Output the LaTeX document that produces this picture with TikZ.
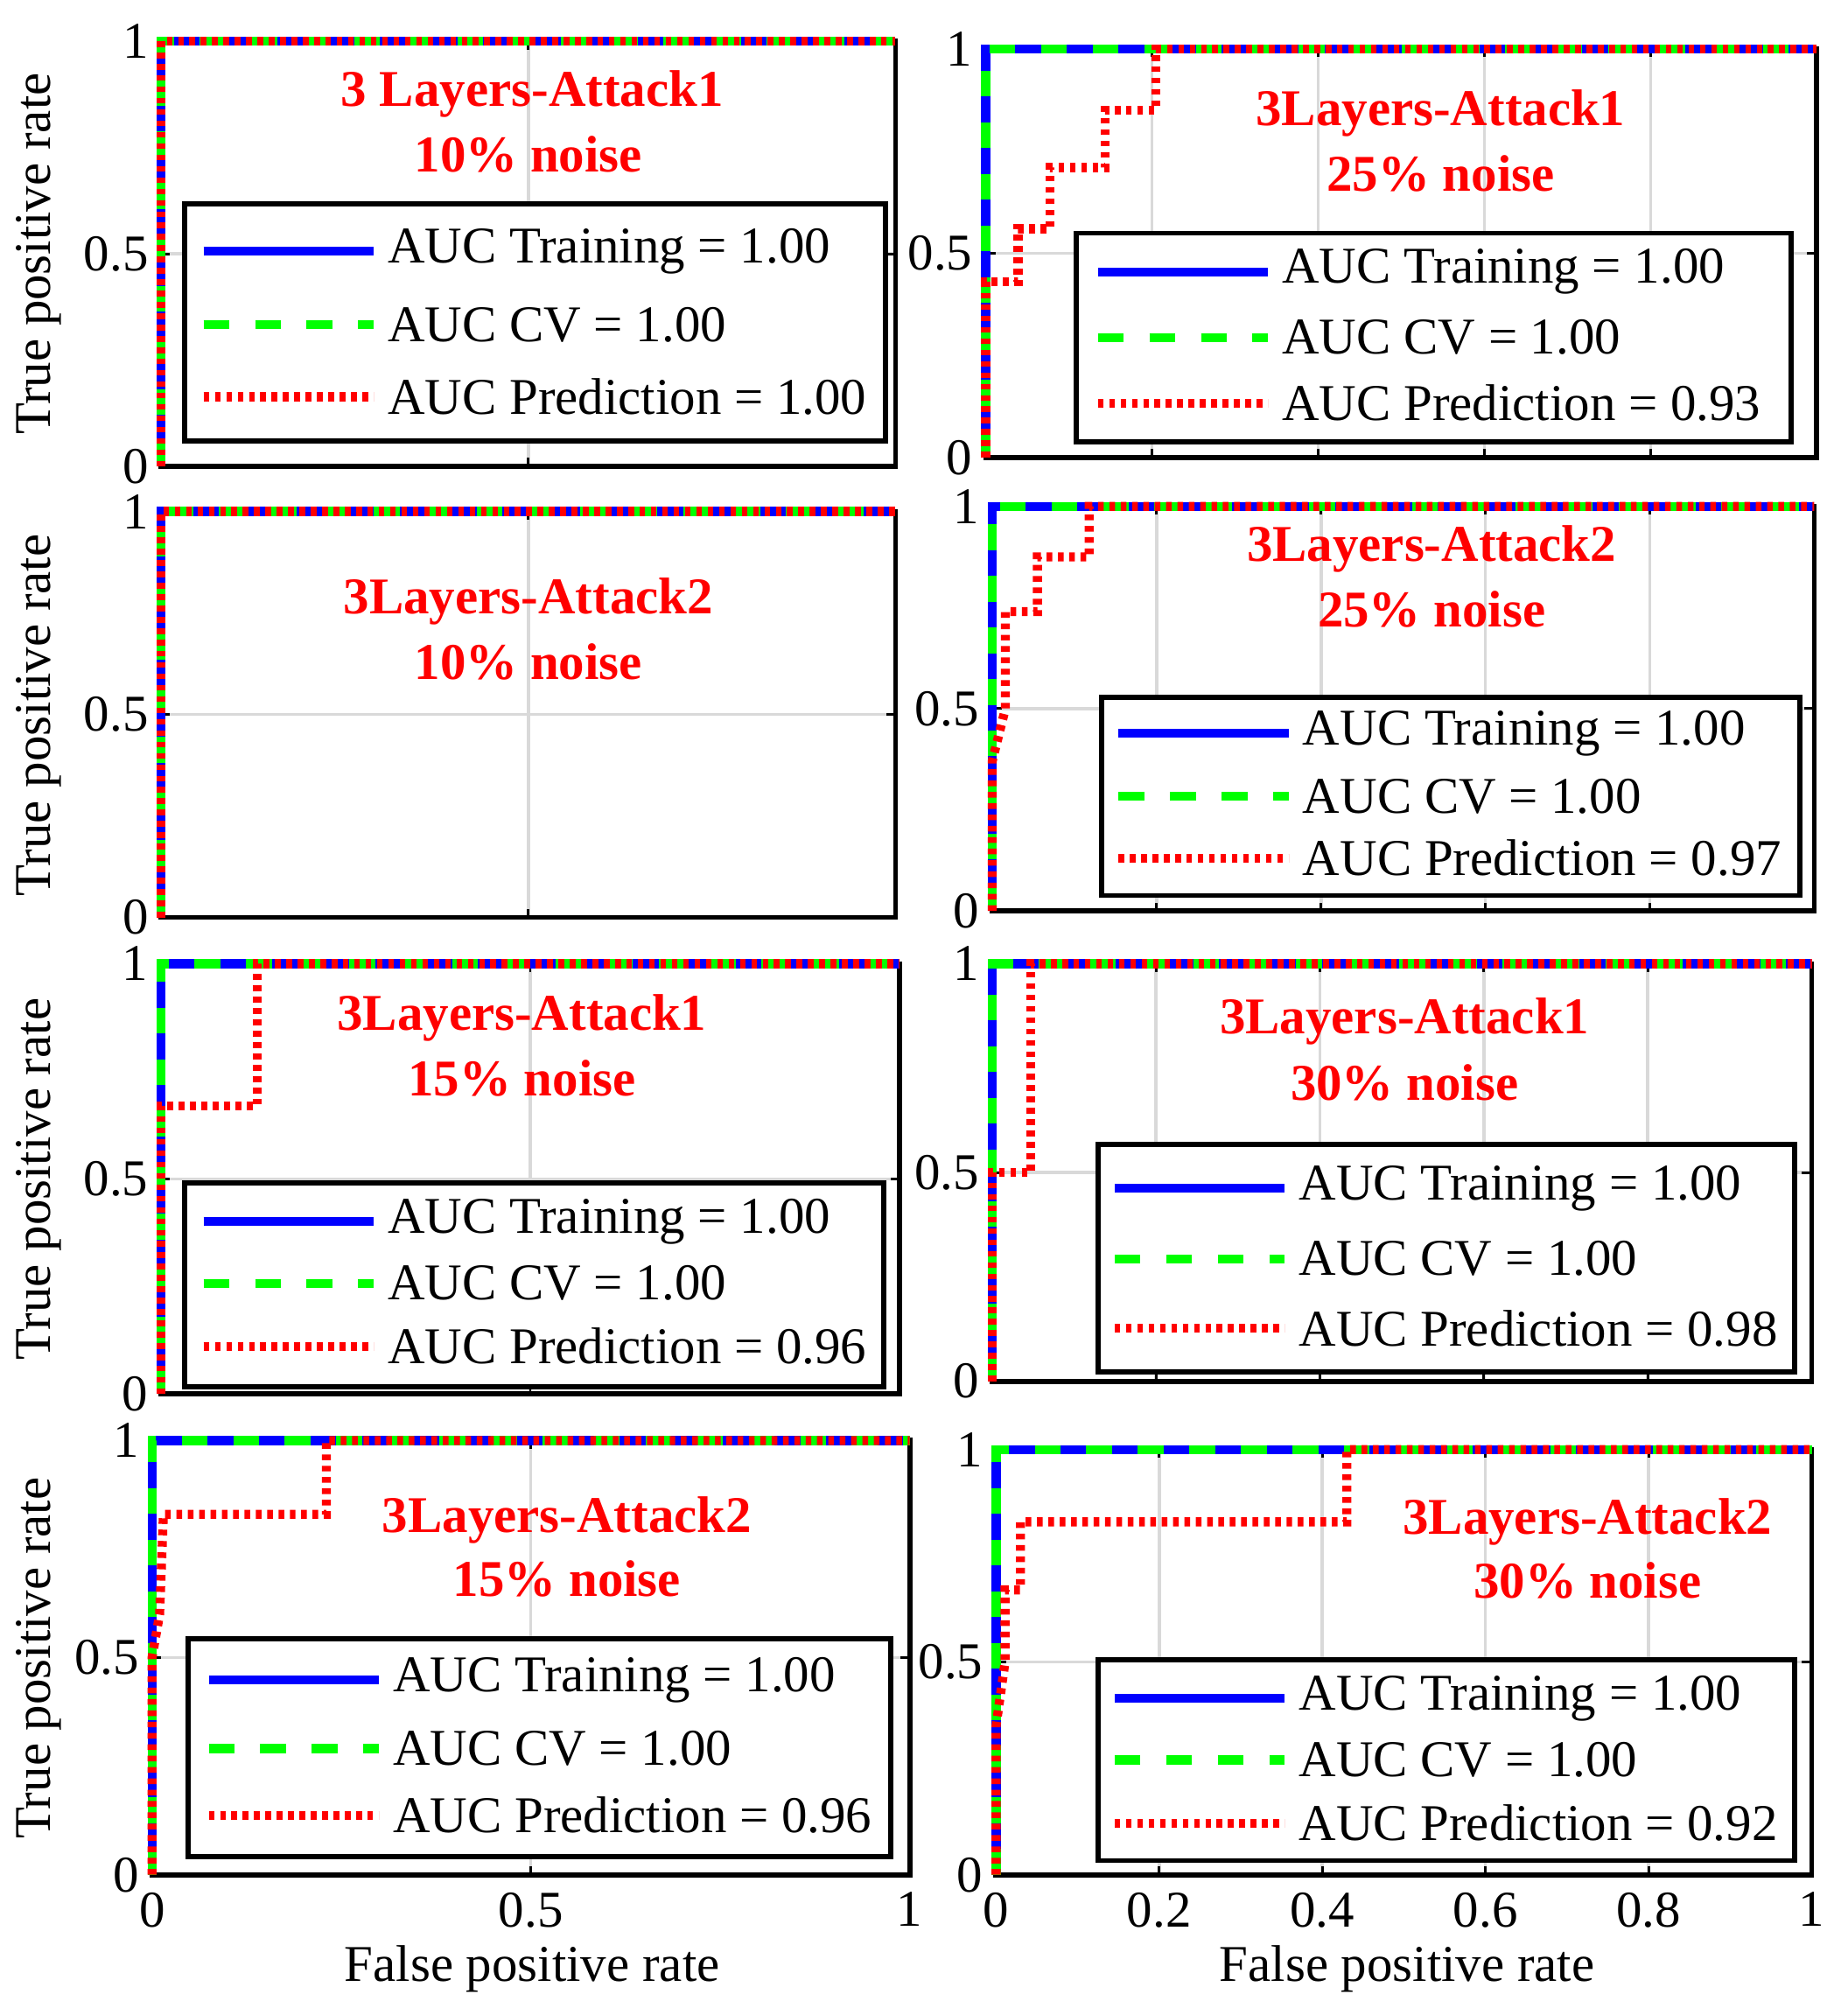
\documentclass[tikz,border=0pt]{standalone}
\usepackage{fontspec}
\setmainfont{Liberation Serif}
\begin{document}
\begin{tikzpicture}[x=0.5pt,y=-0.5pt,
  every node/.style={font=\fontsize{20}{23}\selectfont},
  tr/.style={blue,line width=3.5pt},
  cv/.style={green,line width=3.5pt,dash pattern=on 10pt off 10pt},
  pr/.style={red,line width=3.5pt,dash pattern=on 2.2pt off 2.2pt},
  grd/.style={gray!30,line width=1.2pt},
  frm/.style={black,line width=2pt},
  ttl/.style={red,font=\fontsize{20}{23}\selectfont\bfseries},
  lg/.style={draw=black,line width=2pt,fill=white}]
\useasboundingbox (0,0) rectangle (1434,1553);
\newcommand\rocpanel[7]{% x0 y0 x1 y1 gridtype red bottomlabels
\begin{scope}[shift={(#1,#4)},xscale=#3-#1,yscale=-(#4-#2)]
  \ifnum#5=0
    \draw[grd] (0.5,0)--(0.5,1);
    \foreach \t in {0,0.5,1}{\draw[frm,line width=1pt] (\t,0)--(\t,0.02) (\t,1)--(\t,0.98);}
  \else
    \foreach \t in {0.2,0.4,0.6,0.8}{\draw[grd] (\t,0)--(\t,1);}
    \foreach \t in {0,0.2,...,1}{\draw[frm,line width=1pt] (\t,0)--(\t,0.02) (\t,1)--(\t,0.98);}
  \fi
  \draw[grd] (0,0.5)--(1,0.5);
  \draw[frm,line width=1pt] (0,0.5)--(0.012,0.5) (1,0.5)--(0.988,0.5);
  \draw[frm] (0,0) rectangle (1,1);
  \draw[tr] (0,0)--(0,1)--(1,1);
  \draw[cv] (0,0)--(0,1)--(1,1);
  \draw[pr] #6;
  \node[anchor=east] at (-0.005,0) {0};
  \node[anchor=east] at (-0.005,0.5) {0.5};
  \node[anchor=east] at (-0.005,1) {1};
  \ifnum#7=1
    \ifnum#5=0
      \foreach \t/\l in {0/0,0.5/0.5,1/1}{\node[anchor=north] at (\t,-0.02) {\l};}
    \else
      \foreach \t/\l in {0/0,0.2/0.2,0.4/0.4,0.6/0.6,0.8/0.8,1/1}{\node[anchor=north] at (\t,-0.02) {\l};}
    \fi
  \fi
\end{scope}}
\newcommand\leg[9]{%
  \draw[lg] (#1,#2) rectangle (#3,#4);
  \draw[tr] (#8,#5)--++(132,0);
  \draw[cv] (#8,#6)--++(132,0);
  \draw[pr] (#8,#7)--++(132,0);
  \node[anchor=west] at (#8+136,#5) {AUC Training = 1.00};
  \node[anchor=west] at (#8+136,#6) {AUC CV = 1.00};
  \node[anchor=west] at (#8+136,#7) {AUC Prediction = #9};}
% row 1
\rocpanel{125}{32}{695}{362}{0}{(0,0)--(0,1)--(1,1)}{0}
\leg{143}{158}{687}{342}{195}{252}{308}{158}{1.00}
\node[ttl] at (413,73) {3 Layers-Attack1}; \node[ttl] at (410,120) {10\% noise};
\rocpanel{765}{38}{1410}{355}{1}{(0,0)--(0,0.43)--(0.039,0.43)--(0.039,0.56)--(0.077,0.56)--(0.077,0.71)--(0.144,0.71)--(0.144,0.85)--(0.205,0.85)--(0.205,1)--(1,1)}{0}
\leg{835}{181}{1390}{343}{211}{262}{313}{852}{0.93}
\node[ttl] at (1118,88) {3Layers-Attack1}; \node[ttl] at (1118,135) {25\% noise};
% row 2
\rocpanel{125}{397}{695}{712}{0}{(0,0)--(0,1)--(1,1)}{0}
\node[ttl] at (410,467) {3Layers-Attack2}; \node[ttl] at (410,514) {10\% noise};
\rocpanel{770}{393}{1408}{707}{1}{(0,0)--(0,0.37)--(0.016,0.5)--(0.016,0.74)--(0.055,0.74)--(0.055,0.875)--(0.118,0.875)--(0.118,1)--(1,1)}{0}
\leg{855}{541}{1397}{695}{569}{618}{666}{868}{0.97}
\node[ttl] at (1111,426) {3Layers-Attack2}; \node[ttl] at (1111,473) {25\% noise};
% row 3
\rocpanel{125}{748}{698}{1082}{0}{(0,0)--(0,0.67)--(0.13,0.67)--(0.13,1)--(1,1)}{0}
\leg{143}{918}{686}{1076}{948}{996}{1045}{158}{0.96}
\node[ttl] at (405,790) {3Layers-Attack1}; \node[ttl] at (405,837) {15\% noise};
\rocpanel{770}{748}{1406}{1072}{1}{(0,0)--(0,0.5)--(0.047,0.5)--(0.047,1)--(1,1)}{0}
\leg{852}{888}{1393}{1065}{922}{977}{1031}{865}{0.98}
\node[ttl] at (1090,793) {3Layers-Attack1}; \node[ttl] at (1090,840) {30\% noise};
% row 4
\rocpanel{118}{1118}{706}{1455}{0}{(0,0)--(0,0.5)--(0.01,0.6)--(0.015,0.83)--(0.23,0.83)--(0.23,1)--(1,1)}{1}
\leg{146}{1272}{691}{1441}{1304}{1357}{1409}{162}{0.96}
\node[ttl] at (440,1180) {3Layers-Attack2}; \node[ttl] at (440,1225) {15\% noise};
\rocpanel{773}{1125}{1406}{1455}{1}{(0,0)--(0,0.35)--(0.011,0.5)--(0.011,0.67)--(0.03,0.67)--(0.03,0.83)--(0.43,0.83)--(0.43,1)--(1,1)}{1}
\leg{852}{1288}{1393}{1444}{1318}{1366}{1415}{865}{0.92}
\node[ttl] at (1232,1181) {3Layers-Attack2}; \node[ttl] at (1232,1227) {30\% noise};
% axis labels
\foreach \yy in {197,555,915,1287}{\node[rotate=90] at (30,\yy) {True positive rate};}
\node at (413,1528) {False positive rate};
\node at (1092,1528) {False positive rate};
\end{tikzpicture}
\end{document}
